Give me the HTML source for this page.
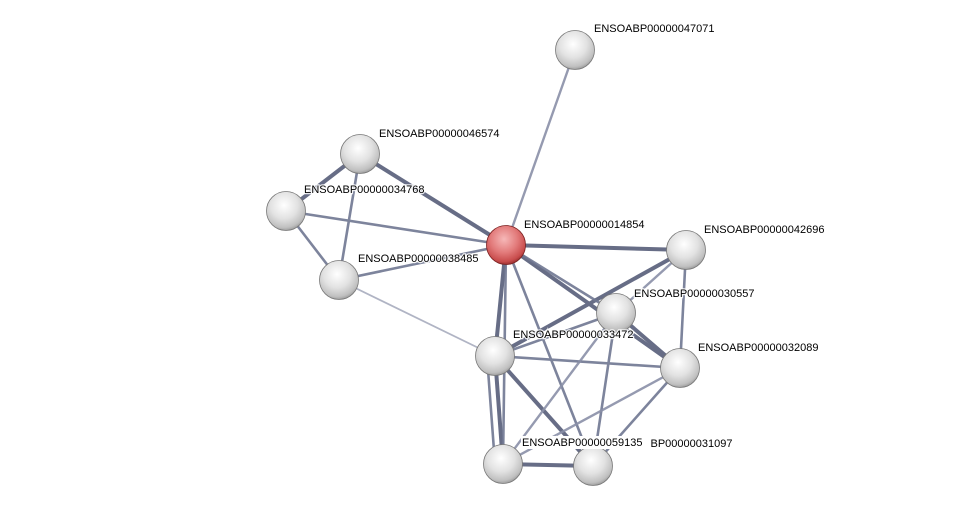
<!DOCTYPE html>
<html><head><meta charset="utf-8"><style>
html,body{margin:0;padding:0;background:#fff;width:976px;height:511px;overflow:hidden}
text{font-family:"Liberation Sans",sans-serif;font-size:11px;fill:#000;paint-order:stroke;stroke:#fff;stroke-width:2.5px;stroke-opacity:0.85}
</style></head><body>
<svg width="976" height="511" viewBox="0 0 976 511" xmlns="http://www.w3.org/2000/svg">
<defs>
<radialGradient id="g" cx="0.45" cy="0.35" r="0.7">
<stop offset="0" stop-color="#ffffff"/><stop offset="0.5" stop-color="#e2e2e2"/><stop offset="0.82" stop-color="#c0c0c0"/><stop offset="1" stop-color="#8a8a8a"/></radialGradient>
<radialGradient id="r" cx="0.45" cy="0.35" r="0.7">
<stop offset="0" stop-color="#f6b8b8"/><stop offset="0.5" stop-color="#e27a7a"/><stop offset="0.82" stop-color="#c84c4c"/><stop offset="1" stop-color="#802020"/></radialGradient>
</defs>
<g stroke-linecap="round">
<g stroke="#5f6680" stroke-width="4" opacity="0.95">
<line x1="360" y1="154" x2="286" y2="211"/>
<line x1="360" y1="154" x2="506" y2="245"/>
<line x1="506" y1="245" x2="686" y2="250"/>
<line x1="506" y1="245" x2="680" y2="368"/>
<line x1="506" y1="245" x2="495" y2="356"/>
<line x1="686" y1="250" x2="495" y2="356"/>
<line x1="495" y1="356" x2="503" y2="464"/>
<line x1="495" y1="356" x2="593" y2="466"/>
<line x1="503" y1="464" x2="593" y2="466"/>
<line x1="616" y1="313" x2="680" y2="368"/>
</g>
<g stroke="#707792" stroke-width="2.6" opacity="0.9">
<line x1="286" y1="211" x2="506" y2="245"/>
<line x1="286" y1="211" x2="339" y2="280"/>
<line x1="339" y1="280" x2="506" y2="245"/>
<line x1="360" y1="154" x2="339" y2="280"/>
<line x1="506" y1="245" x2="616" y2="313"/>
<line x1="506" y1="245" x2="503" y2="464"/>
<line x1="506" y1="245" x2="593" y2="466"/>
<line x1="686" y1="250" x2="680" y2="368"/>
<line x1="616" y1="313" x2="495" y2="356"/>
<line x1="616" y1="313" x2="593" y2="466"/>
<line x1="495" y1="356" x2="680" y2="368"/>
<line x1="680" y1="368" x2="593" y2="466"/>
<line x1="487" y1="356" x2="495" y2="464"/>
</g>
<g stroke="#8a90a8" stroke-width="2.4" opacity="0.9">
<line x1="575" y1="50" x2="506" y2="245"/>
<line x1="686" y1="250" x2="616" y2="313"/>
<line x1="616" y1="313" x2="503" y2="464"/>
<line x1="680" y1="368" x2="503" y2="464"/>
</g>
<line x1="339" y1="280" x2="495" y2="356" stroke="#b0b4c4" stroke-width="1.8"/>
</g>
<g>
<circle cx="575" cy="50" r="19.5" fill="url(#g)" stroke="#777" stroke-width="0.8"/>
<circle cx="360" cy="154" r="19.5" fill="url(#g)" stroke="#777" stroke-width="0.8"/>
<circle cx="286" cy="211" r="19.5" fill="url(#g)" stroke="#777" stroke-width="0.8"/>
<circle cx="339" cy="280" r="19.5" fill="url(#g)" stroke="#777" stroke-width="0.8"/>
<circle cx="686" cy="250" r="19.5" fill="url(#g)" stroke="#777" stroke-width="0.8"/>
<circle cx="616" cy="313" r="19.5" fill="url(#g)" stroke="#777" stroke-width="0.8"/>
<circle cx="495" cy="356" r="19.5" fill="url(#g)" stroke="#777" stroke-width="0.8"/>
<circle cx="680" cy="368" r="19.5" fill="url(#g)" stroke="#777" stroke-width="0.8"/>
<circle cx="503" cy="464" r="19.5" fill="url(#g)" stroke="#777" stroke-width="0.8"/>
<circle cx="593" cy="466" r="19.5" fill="url(#g)" stroke="#777" stroke-width="0.8"/>
<circle cx="506" cy="245" r="19.5" fill="url(#r)" stroke="#7a2020" stroke-width="0.8"/>
</g>
<g>
<text x="594" y="32">ENSOABP00000047071</text>
<text x="379" y="137">ENSOABP00000046574</text>
<text x="304" y="193">ENSOABP00000034768</text>
<text x="524" y="228">ENSOABP00000014854</text>
<text x="704" y="233">ENSOABP00000042696</text>
<text x="358" y="262">ENSOABP00000038485</text>
<text x="634" y="297">ENSOABP00000030557</text>
<text x="513" y="338">ENSOABP00000033472</text>
<text x="698" y="351">ENSOABP00000032089</text>
<text x="612" y="447">ENSOABP00000031097</text>
<rect x="521" y="436" width="130" height="13" fill="#fff"/>
<text x="522" y="446">ENSOABP00000059135</text>
</g>
</svg>
</body></html>
